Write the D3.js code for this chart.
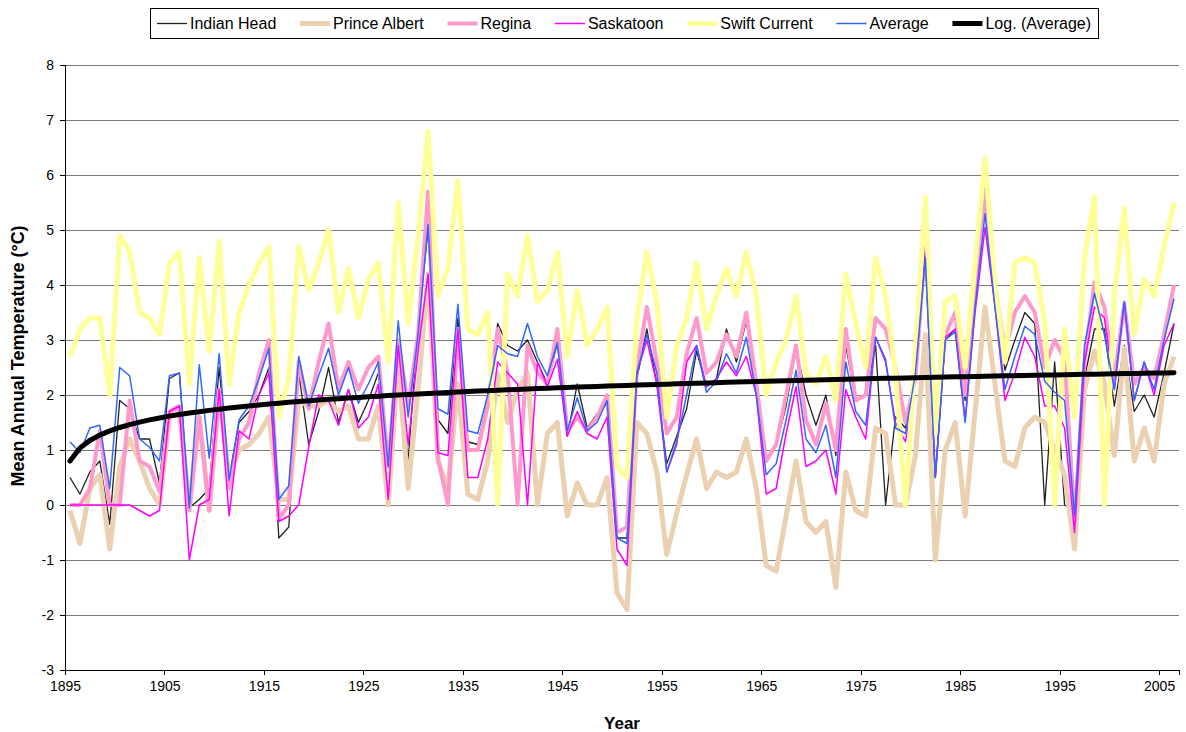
<!DOCTYPE html>
<html>
<head>
<meta charset="utf-8">
<script src="https://cdn.jsdelivr.net/npm/d3@7"></script>
<style>
  body { margin: 0; background: #fff; }
  svg { display: block; }
  text { font-family: "Liberation Sans", Arial, sans-serif; fill: #000; }
</style>
</head>
<body>
<svg id="chart" width="1186" height="732"></svg>
<script>
// Mean annual temperature (°C) at five Saskatchewan stations, 1895–2006
const years = d3.range(1895, 2007);

const indianHead = [
  0.5, 0.2, 0.6, 0.8, -0.35, 1.9, 1.75, 1.2, 1.2, 0.4,
  2.3, 2.4, -0.05, 0.1, 0.3, 2.5, 0.5, 1.5, 1.7, 2.0,
  2.5, -0.6, -0.4, 2.4, 1.1, 1.7, 2.5, 1.5, 2.1, 1.5,
  1.9, 2.4, 0.7, 2.6, 0.8, 3.3, 5.0, 1.55, 1.3, 3.4,
  1.15, 1.1, 1.9, 3.3, 2.9, 2.8, 3.0, 2.6, 2.2, 2.95,
  1.25, 2.2, 1.4, 1.65, 1.85, -0.6, -0.6, 2.3, 3.2, 2.2,
  0.75, 1.25, 1.75, 2.8, 2.15, 2.3, 3.2, 2.6, 3.35, 2.1,
  0.8, 1.1, 1.8, 2.85, 2.0, 1.45, 2.0, 0.9, 2.9, 1.9,
  2.0, 2.9, 0.0, 1.6, 1.4, 2.2, 4.5, 0.5, 3.0, 3.2,
  1.9, 3.8, 5.8, 3.8, 2.45, 3.0, 3.5, 3.3, 0.0, 2.6,
  0.0, -0.1, 2.3, 3.2, 3.2, 1.8, 2.9, 1.7, 2.0, 1.6,
  2.4, 3.3
];

const princeAlbert = [
  -0.1, -0.7, 0.3, 0.55, -0.8, 0.7, 1.2, 0.8, 0.3, 0.0,
  1.6, 1.7, 0.0, 1.6, -0.1, 2.0, 0.5, 1.0, 1.1, 1.3,
  1.6, 0.1, 0.1, 1.9, 1.8, 1.8, 1.9, 1.7, 1.8, 1.2,
  1.2, 1.8, 0.0, 2.6, 0.3, 2.1, 4.2, 0.8, 0.3, 2.2,
  0.2, 0.1, 0.8, 2.4, 1.5, 2.1, 2.4, 0.0, 1.3, 1.5,
  -0.2, 0.4, 0.0, 0.0, 0.5, -1.6, -1.9, 1.5, 1.3, 0.6,
  -0.9, -0.15, 0.55, 1.2, 0.3, 0.6, 0.5, 0.6, 1.2, 0.3,
  -1.1, -1.2, -0.2, 0.8, -0.3, -0.5, -0.3, -1.5, 0.6, -0.1,
  -0.2, 1.4, 1.3, 0.0, 0.0, 0.9, 3.1, -1.0, 1.0, 1.5,
  -0.2, 1.7, 3.6, 2.2, 0.8, 0.7, 1.4, 1.6, 1.5, 1.0,
  0.55, -0.8, 2.1, 2.8, 2.2, 0.9, 2.85, 0.8, 1.4, 0.8,
  2.2, 2.7
];

const regina = [
  0.0, 0.0, 0.3, 1.35, 0.0, 0.0, 1.9, 0.8, 0.7, 0.25,
  1.7, 1.8, -0.1, 1.6, -0.1, 2.1, 0.3, 1.2, 1.5, 2.4,
  3.0, -0.25, 0.0, 2.6, 1.75, 2.6, 3.3, 2.1, 2.6, 2.1,
  2.5, 2.7, 0.7, 3.0, 1.8, 3.1, 5.7, 0.85, 0.0, 3.2,
  1.0, 1.0, 1.8, 3.2, 2.4, 0.0, 2.9, 2.4, 2.2, 3.2,
  1.35, 1.6, 1.35, 1.6, 2.0, -0.5, -0.4, 2.5, 3.6, 2.6,
  1.3, 1.6, 2.75, 3.4, 2.4, 2.6, 3.1, 2.7, 3.5, 2.2,
  0.8, 1.1, 2.0, 2.9, 1.55, 1.1, 1.85, 1.0, 3.2, 1.9,
  2.0, 3.4, 3.2, 2.5, 1.5, 2.3, 4.8, 1.4, 3.1, 3.5,
  2.0, 4.0, 5.7, 4.0, 2.8, 3.5, 3.8, 3.5, 2.5, 3.0,
  2.65, -0.3, 2.6, 4.05, 3.6, 2.3, 3.65, 2.2, 2.5, 2.3,
  3.1, 4.0
];

const saskatoon = [
  0.0, 0.0, 0.0, 0.0, 0.0, 0.0, 0.0, -0.1, -0.2, -0.1,
  1.7, 1.8, -1.0, 0.0, 0.1, 2.1, -0.2, 1.35, 1.2, 2.0,
  2.4, -0.3, -0.2, 0.0, 1.05, 2.0, 1.9, 1.45, 2.1, 1.4,
  1.6, 2.2, 0.1, 2.9, 1.1, 2.8, 4.2, 0.95, 0.9, 3.2,
  0.5, 0.5, 1.2, 2.6, 2.4, 2.2, 0.0, 2.6, 2.15, 2.65,
  1.25, 1.7, 1.3, 1.2, 1.6, -0.8, -1.1, 2.4, 3.0, 2.2,
  0.6, 1.1, 2.6, 2.9, 2.15, 2.3, 2.6, 2.35, 2.7, 2.0,
  0.2, 0.3, 1.3, 2.15, 0.7, 0.8, 1.0, 0.2, 2.1, 1.6,
  1.2, 3.05, 2.6, 1.5, 1.15, 2.3, 4.7, 0.5, 3.05, 3.2,
  1.55, 3.5, 5.05, 3.6, 1.9, 2.4, 3.05, 2.7, 1.8, 1.8,
  1.4, -0.5, 2.6, 3.6, 3.4, 2.1, 3.7, 1.9, 2.6, 2.0,
  2.9, 3.3
];

const swiftCurrent = [
  2.7, 3.2, 3.4, 3.4, 2.0, 4.9, 4.6, 3.5, 3.4, 3.1,
  4.4, 4.6, 2.2, 4.5, 2.8, 4.8, 2.2, 3.5, 4.0, 4.4,
  4.7, 1.6, 2.3, 4.7, 3.9, 4.4, 5.0, 3.5, 4.3, 3.4,
  4.1, 4.4, 2.6, 5.5, 3.3, 4.9, 6.8, 3.8, 4.3, 5.9,
  3.2, 3.1, 3.5, 0.0, 4.2, 3.8, 4.9, 3.7, 3.9, 4.6,
  2.7, 3.9, 2.9, 3.2, 3.6, 0.7, 0.5, 3.4, 4.6, 3.7,
  1.6, 2.9, 3.4, 4.4, 3.2, 3.8, 4.3, 3.8, 4.6, 3.8,
  2.0, 2.6, 3.0, 3.8, 2.4, 2.2, 2.7, 1.9, 4.2, 3.3,
  2.5, 4.5, 3.8, 2.4, 0.0, 2.8, 5.6, 1.3, 3.7, 3.8,
  2.5, 4.4, 6.3, 4.0, 2.6, 4.4, 4.5, 4.4, 3.3, 0.0,
  3.2, 1.6, 4.5, 5.6, 0.0, 3.8, 5.4, 3.1, 4.1, 3.8,
  4.7, 5.5
];

const average = [
  1.15, 0.95, 1.4, 1.45, 0.3, 2.5, 2.35, 1.2, 1.05, 0.8,
  2.35, 2.4, -0.05, 2.55, 0.85, 2.75, 0.45, 1.55, 1.8, 2.3,
  2.85, 0.1, 0.35, 2.7, 1.8, 2.35, 2.85, 2.0, 2.5, 1.85,
  2.2, 2.6, 0.7, 3.35, 1.6, 3.1, 5.1, 1.75, 1.65, 3.65,
  1.35, 1.3, 2.0, 2.9, 2.75, 2.7, 3.3, 2.7, 2.35, 2.95,
  1.35, 1.95, 1.35, 1.5, 1.9, -0.6, -0.7, 2.4, 3.1, 2.4,
  0.6, 1.15, 2.0, 2.9, 2.05, 2.25, 2.75, 2.4, 3.05, 2.0,
  0.55, 0.75, 1.55, 2.45, 1.2, 0.95, 1.45, 0.5, 2.6, 1.7,
  1.45, 3.05, 2.65, 1.4, 1.3, 2.4, 4.5, 0.5, 3.0, 3.15,
  1.5, 3.6, 5.3, 3.6, 2.1, 2.7, 3.25, 3.1, 2.25, 2.05,
  1.9, -0.2, 2.9, 3.85, 3.1, 2.1, 3.7, 1.9, 2.6, 2.1,
  3.0, 3.75
];

// Logarithmic trend of the average: y = slope * ln(n) + intercept, n = 1..112
const trendSlope = 0.34;
const trendIntercept = 0.8;

const yTicks = d3.range(-3, 9);
const xTickYears = d3.range(1895, 2006, 10);

const series = [
  { name: "Indian Head",   values: indianHead,   color: "#222222", width: 1.3 },
  { name: "Prince Albert", values: princeAlbert, color: "#EBD1B2", width: 5 },
  { name: "Regina",        values: regina,       color: "#FF99CC", width: 4 },
  { name: "Saskatoon",     values: saskatoon,    color: "#FF00FF", width: 1.5 },
  { name: "Swift Current", values: swiftCurrent, color: "#FFFF99", width: 5 },
  { name: "Average",       values: average,      color: "#3366FF", width: 1.5 }
];
const trendValues = years.map((yr, i) => trendSlope * Math.log(i + 1) + trendIntercept);

const svg = d3.select("#chart");
const plot = { left: 65, right: 1179, top: 65, bottom: 670 };

const x = d3.scaleBand().domain(years).range([plot.left, plot.right]);
const xEdge = d3.scaleLinear().domain([1895, 2007]).range([plot.left, plot.right]);
const y = d3.scaleLinear().domain([-3, 8]).range([plot.bottom, plot.top]);
const cx = yr => x(yr) + x.bandwidth() / 2;
const plainNumber = d => String(d);   // ASCII hyphen for negatives

// horizontal gridlines
svg.append("g")
  .selectAll("line")
  .data(yTicks)
  .join("line")
  .attr("x1", plot.left).attr("x2", plot.right)
  .attr("y1", d => y(d)).attr("y2", d => y(d))
  .attr("stroke", "#7a7a7a").attr("stroke-width", 1)
  .attr("shape-rendering", "crispEdges");

// y axis
const yAxis = svg.append("g")
  .attr("transform", `translate(${plot.left},0)`)
  .call(d3.axisLeft(y).tickValues(yTicks).tickSize(5).tickPadding(6).tickFormat(plainNumber));
yAxis.selectAll("path, line").attr("stroke", "#000").attr("shape-rendering", "crispEdges");
yAxis.selectAll("text").style("font-size", "14px").attr("fill", "#000");

// x axis: labels sit on category boundaries every ten years
const xAxis = svg.append("g")
  .attr("transform", `translate(0,${plot.bottom})`)
  .call(d3.axisBottom(xEdge).tickValues(xTickYears).tickSize(5).tickPadding(6).tickFormat(plainNumber));
xAxis.selectAll("path, line").attr("stroke", "#000").attr("shape-rendering", "crispEdges");
xAxis.selectAll("text").style("font-size", "14px").attr("fill", "#000");

// data lines
const line = d3.line()
  .x((d, i) => cx(years[i]))
  .y(d => y(d));

svg.append("g")
  .selectAll("path")
  .data(series)
  .join("path")
  .attr("d", s => line(s.values))
  .attr("fill", "none")
  .attr("stroke", s => s.color)
  .attr("stroke-width", s => s.width)
  .attr("stroke-linejoin", "round");

// trend line
svg.append("path")
  .attr("d", line(trendValues))
  .attr("fill", "none")
  .attr("stroke", "#000")
  .attr("stroke-width", 5)
  .attr("stroke-linecap", "round");

// axis titles
svg.append("text")
  .attr("transform", "translate(24,356) rotate(-90)")
  .attr("text-anchor", "middle")
  .style("font-size", "18px").style("font-weight", "bold")
  .text("Mean Annual Temperature (°C)");

svg.append("text")
  .attr("x", 622).attr("y", 729)
  .attr("text-anchor", "middle")
  .style("font-size", "17px").style("font-weight", "bold")
  .text("Year");

// legend
const legendItems = series.map(s => ({ name: s.name, color: s.color, width: s.width }))
  .concat([{ name: "Log. (Average)", color: "#000", width: 5 }]);
const legendBox = { x: 150, y: 8, w: 948, h: 30 };
const legend = svg.append("g");
legend.append("rect")
  .attr("x", legendBox.x + 0.5).attr("y", legendBox.y + 0.5)
  .attr("width", legendBox.w).attr("height", legendBox.h)
  .attr("fill", "#fff").attr("stroke", "#000");

const sampleLen = 30, textGap = 3, pad = 7;
const items = legend.selectAll("g.item").data(legendItems).join("g").attr("class", "item");
items.append("text")
  .style("font-size", "16px")
  .attr("dominant-baseline", "central")
  .text(d => d.name);
const widths = [];
items.selectAll("text").each(function () { widths.push(this.getComputedTextLength()); });
const used = legendItems.length * (sampleLen + textGap) + d3.sum(widths) + 2 * pad;
const gap = (legendBox.w - used) / (legendItems.length - 1);
let cursor = legendBox.x + pad;
items.each(function (d, i) {
  const g = d3.select(this);
  const cy = legendBox.y + legendBox.h / 2 + 0.5;
  g.insert("line", "text")
    .attr("x1", cursor).attr("x2", cursor + sampleLen)
    .attr("y1", cy).attr("y2", cy)
    .attr("stroke", d.color).attr("stroke-width", d.width);
  g.select("text").attr("x", cursor + sampleLen + textGap).attr("y", cy);
  cursor += sampleLen + textGap + widths[i] + gap;
});
</script>
</body>
</html>
